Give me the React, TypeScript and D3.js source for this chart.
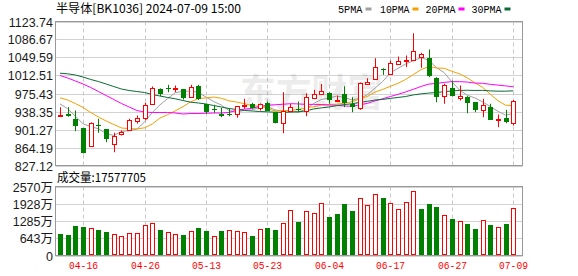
import React from 'react';
import * as d3 from 'd3';

const dates = ['04-11','04-12','04-15','04-16','04-17','04-18','04-19','04-22','04-23','04-24','04-25','04-26','04-29','04-30','05-06','05-07','05-08','05-09','05-10','05-13','05-14','05-15','05-16','05-17','05-20','05-21','05-22','05-23','05-24','05-27','05-28','05-29','05-30','05-31','06-03','06-04','06-05','06-06','06-07','06-11','06-12','06-13','06-14','06-17','06-18','06-19','06-20','06-21','06-24','06-25','06-26','06-27','06-28','07-01','07-02','07-03','07-04','07-05','07-08','07-09'];
const open = [930.1,932.2,923.3,903.9,866.9,910.9,901.3,871.8,891.0,900.6,917.7,924.5,954.2,985.1,987.2,985.5,983.7,969.2,990.5,952.8,942.5,933.6,934.2,932.2,951.5,954.2,946.0,956.3,936.9,916.3,940.4,944.5,939.0,966.6,976.0,976.9,959.6,973.4,954.2,945.1,995.4,1005.7,1024.9,1016.0,1036.6,1044.4,1044.8,1049.0,1049.0,1007.8,971.3,987.2,965.7,969.2,956.9,941.8,948.6,921.0,925.4,915.1];
const high = [947.2,947.2,940.4,904.5,916.0,923.3,902.0,894.5,899.2,923.3,930.1,956.3,989.8,986.0,993.3,991.9,985.0,993.3,993.3,954.5,952.1,946.0,943.9,950.0,964.5,956.3,955.0,958.9,937.5,978.1,954.2,958.9,976.0,983.0,995.0,978.0,971.3,990.5,967.8,998.0,1006.9,1048.1,1027.5,1043.4,1051.6,1053.7,1099.6,1059.3,1066.1,1009.0,995.4,1002.2,991.9,970.0,957.5,964.5,954.2,932.2,941.8,962.0];
const low = [929.8,927.5,897.8,852.0,866.0,894.5,875.1,854.5,888.9,899.0,913.6,921.2,953.0,969.9,978.1,978.1,963.1,968.0,962.0,934.0,935.7,926.6,928.7,925.4,943.9,943.9,940.4,939.0,914.0,893.6,936.9,936.9,928.7,964.5,974.8,954.2,957.5,947.2,936.9,941.8,993.3,1005.0,1013.9,1015.0,1034.5,1029.6,1044.0,1028.4,1009.0,957.5,954.2,969.0,961.0,934.8,936.9,926.6,921.0,906.0,914.2,909.5];
const close = [930.5,928.7,909.5,853.3,914.2,908.1,880.0,888.9,895.7,921.2,924.5,952.1,987.2,974.4,985.7,986.2,965.7,989.8,963.1,935.7,940.4,928.7,933.2,949.3,952.1,946.0,954.2,940.4,915.1,940.4,948.6,942.5,967.8,974.8,981.6,963.1,962.5,955.4,948.6,997.5,1000.1,1031.0,1023.4,1038.7,1043.4,1044.8,1064.0,1055.8,1011.1,967.8,993.3,969.9,970.7,957.5,940.4,952.1,921.9,922.5,916.3,961.0];
// volume in 万
const volume = [815,778,1091,1054,1041,941,865,815,740,853,853,1154,1229,941,891,815,753,928,1016,903,740,903,941,928,891,715,1003,1016,941,1229,1693,1254,1656,1568,1944,1443,1543,1919,1656,2132,1882,2283,2145,1944,1731,1982,2408,1731,1919,1806,1493,1355,1267,1167,978,1317,1129,1054,1167,1757.7705];
const prevClose = 935;

// MA values before enough history is on screen
const ma5Lead = [954.2, 944.0, 928.7, 913.0];
const ma10Lead = [966.6, 962.0, 954.8, 946.6, 936.3, 927.0, 918.8, 911.6, 904.4];
const ma20Lead = [1012.5, 1007.4, 1001.2, 995.0, 987.8, 979.5, 971.3, 963.1, 954.8, 947.6, 940.4, 937.3, 936.3, 936.3, 936.3, 935.3, 933.2, 934.2, 934.2];
const ma30Lead = [1017.2, 1016.0, 1013.5, 1009.4, 1004.3, 1000.1, 995.0, 989.8, 984.7, 981.6, 979.5, 977.5, 973.4, 970.3, 967.2, 964.5, 961.0, 957.5, 955.9, 953.8, 950.7, 947.6, 944.5, 942.5, 940.4, 939.4, 938.3, 937.7, 936.9];

const priceTickLabels = ['1123.74','1086.67','1049.59','1012.51','975.43','938.35','901.27','864.19','827.12'];
const volTickValues = [2570, 1928, 1285, 643, 0];
const volTickLabels = ['2570万','1928万','1285万','643万','0'];
const xLabelDates = ['04-16','04-26','05-13','05-23','06-04','06-17','06-27','07-09'];
const maNames = ['5PMA','10PMA','20PMA','30PMA'];
const maPeriods = [5, 10, 20, 30];
const title = '半导体[BK1036] 2024-07-09 15:00';
const volTitle = '成交量:17577705';

const RED = '#ff0000';
const GREEN = '#008000';
const maColors = ['#a0a0a0', '#f5a000', '#ff00ff', '#0b6b35'];
const MONO = '"Liberation Mono", "DejaVu Sans Mono", monospace';
const CJK = '"Noto Sans CJK SC", "Liberation Mono", sans-serif';

function movingAvg(n: number, lead: number[]) {
  return close.map((_, i) => (i < n - 1 ? lead[i] : (d3.mean(close.slice(i - n + 1, i + 1)) as number)));
}

export default function App() {
  const L = 55.5, R = 522.5, PT = 21.5, PB = 165.5, VT = 186.5, VB = 255.5;
  const x = d3.scalePoint<string>().domain(dates).range([60, 513.3]);
  const y = d3.scaleLinear().domain([827.12, 1123.74]).range([PB, PT]);
  const vy = d3.scaleLinear().domain([0, 2570]).range([VB, VT]);
  const mas = [movingAvg(5, ma5Lead), movingAvg(10, ma10Lead), movingAvg(20, ma20Lead), movingAvg(30, ma30Lead)];
  const line = d3.line<number>().x((_, i) => x(dates[i]) as number).y((d) => y(d));

  const legendX = [338, 380, 425.5, 471.5];
  const legendW = [24.5, 29.5, 30, 30];

  return (
    <svg width={578} height={276} style={{ position: 'absolute', left: 0, top: 0, background: '#fff' }}>
      {/* title */}
      <text x={56} y={13} fontFamily={CJK} fontSize={12} fill="#000" textLength={185} lengthAdjust="spacingAndGlyphs">{title}</text>
      {/* legend */}
      {maNames.map((n, k) => (
        <g key={n}>
          <text x={legendX[k]} y={13} fontFamily={MONO} fontSize={11} fill="#000" textLength={legendW[k]} lengthAdjust="spacingAndGlyphs">{n}</text>
          <rect x={legendX[k] + legendW[k] + 3} y={7.5} width={6} height={3} fill={maColors[k]} />
        </g>
      ))}

      {/* price grid */}
      {priceTickLabels.map((t) => {
        const yy = Math.round(y(parseFloat(t))) + 0.5;
        return (
          <g key={t}>
            <line x1={L} x2={R} y1={yy} y2={yy} stroke="#d2d2d2" />
            <text x={53} y={yy} dy="0.35em" textAnchor="end" fontFamily='"Liberation Sans", Arial, sans-serif' fontSize={12.5} fill="#1a1a1a">{t}</text>
          </g>
        );
      })}
      {/* volume grid */}
      {volTickValues.map((v, k) => {
        const yy = Math.round(vy(v)) + 0.5;
        return (
          <g key={v}>
            <line x1={L} x2={R} y1={yy} y2={yy} stroke="#d2d2d2" />
            <text x={53} y={yy} dy="0.35em" textAnchor="end" fontFamily='"Liberation Sans", Arial, "Noto Sans CJK SC", sans-serif' fontSize={12.5} fill="#1a1a1a">{volTickLabels[k]}</text>
          </g>
        );
      })}
      {/* vertical dashed grid + x labels */}
      {xLabelDates.map((d) => {
        const xx = Math.round(x(d) as number) + 0.5;
        return (
          <g key={d}>
            <line x1={xx} x2={xx} y1={PT} y2={PB} stroke="#c8c8c8" strokeDasharray="4,3" />
            <line x1={xx} x2={xx} y1={VT} y2={VB} stroke="#c8c8c8" strokeDasharray="4,3" />
            <text x={xx} y={269} textAnchor="middle" fontFamily={MONO} fontSize={11} fill={RED} textLength={29} lengthAdjust="spacingAndGlyphs">{d}</text>
          </g>
        );
      })}

      {/* watermark */}
      <text x={240} y={106} fontFamily={CJK} fontWeight="bold" fontSize={38} fill="#000" opacity={0.07} textLength={143} lengthAdjust="spacingAndGlyphs">东方财富</text>

      {/* frames */}
      <rect x={L} y={PT} width={R - L} height={PB - PT} fill="none" stroke="#999" />
      <rect x={L} y={VT} width={R - L} height={VB - VT} fill="none" stroke="#999" />

      {/* moving averages */}
      {mas.map((m, k) => (
        <path key={k} d={line(m) as string} fill="none" stroke={maColors[k]} strokeWidth={1} />
      ))}

      {/* candles */}
      {dates.map((d, i) => {
        const px = Math.round(x(d) as number);
        const up = close[i] >= open[i];
        const c = up ? RED : GREEN;
        const top = y(Math.max(open[i], close[i]));
        const bot = y(Math.min(open[i], close[i]));
        const h = Math.max(1, bot - top);
        return (
          <g key={d}>
            <line x1={px + 0.5} x2={px + 0.5} y1={y(high[i])} y2={y(low[i])} stroke={c} />
            {up ? (
              <rect x={px - 1.5} y={Math.round(top) + 0.5} width={4} height={Math.max(0, Math.round(h))} fill="#fff" stroke={c} />
            ) : (
              <rect x={px - 2} y={Math.round(top)} width={5} height={Math.max(1, Math.round(h))} fill={c} />
            )}
          </g>
        );
      })}

      {/* volume */}
      <text x={57} y={182} fontFamily={CJK} fontSize={12} fill="#000" textLength={89} lengthAdjust="spacingAndGlyphs">{volTitle}</text>
      {dates.map((d, i) => {
        const px = Math.round(x(d) as number);
        const pc = i === 0 ? prevClose : close[i - 1];
        const up = close[i] > pc;
        const top = Math.round(vy(volume[i]));
        return up ? (
          <rect key={d} x={px - 1.5} y={top + 0.5} width={4} height={Math.round(VB - 0.5) - top - 1} fill="#fff" stroke={RED} />
        ) : (
          <rect key={d} x={px - 2} y={top} width={5} height={Math.round(VB - 0.5) - top} fill={GREEN} />
        );
      })}
    </svg>
  );
}
